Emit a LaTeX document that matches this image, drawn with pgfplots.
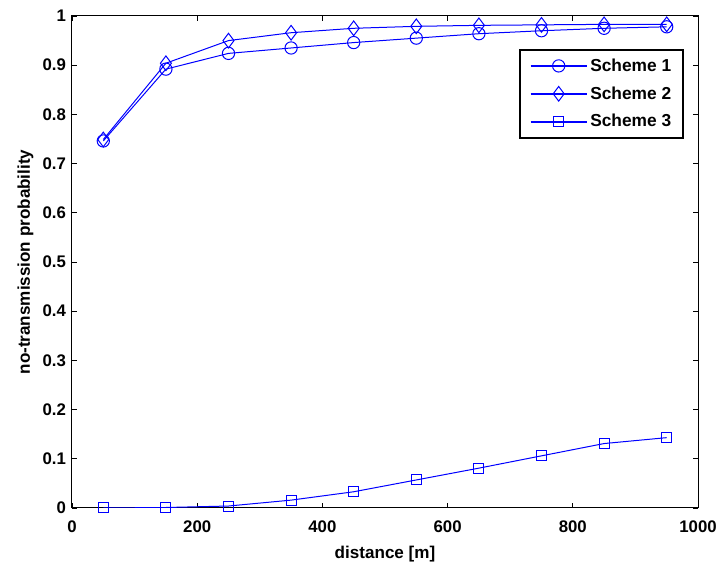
\documentclass[border=0pt]{standalone}
\usepackage{pgfplots}
\pgfplotsset{compat=1.18}
\usepackage{fontspec}
\setmainfont{Liberation Sans}
\definecolor{mblue}{RGB}{0,0,255}
\begin{document}
\begin{tikzpicture}
\path[use as bounding box] (-54pt,-41.25pt) rectangle (486.75pt,381pt);
\begin{axis}[
  at={(0,0)}, anchor=south west,
  scale only axis,
  width=469.5pt, height=369pt,
  xmin=0, xmax=1000, ymin=0, ymax=1,
  xtick={0,200,...,1000},
  ytick={0,0.1,...,1},
  yticklabels={0,0.1,0.2,0.3,0.4,0.5,0.6,0.7,0.8,0.9,1},
  scaled x ticks=false,
  /pgf/number format/assume math mode=true,
  /pgf/number format/1000 sep={},
  tick label style={font=\bfseries\fontsize{12.6}{15}\selectfont},
  yticklabel style={xshift=-1pt},
  xticklabel style={yshift=-6pt},
  label style={font=\bfseries\fontsize{12.8}{15}\selectfont},
  xlabel={distance [m]},
  ylabel={no-transmission probability},
  xlabel style={yshift=-3pt},
  ylabel style={yshift=0pt},
  tick align=inside,
  major tick length=3.75pt,
  xtick pos=both, ytick pos=both,
  axis line style={black, line width=0.75pt},
  every tick/.style={black, line width=0.6pt},
  legend style={at={(0.978,0.933)}, anchor=north east, draw=black, line width=1.5pt,
    font=\bfseries\fontsize{13}{15}\selectfont, row sep=6pt, inner xsep=7pt, inner ysep=4.5pt},
  legend cell align=left,
  legend image code/.code={
    \draw[mblue, line width=1.4pt, mark repeat=2, mark phase=2, #1] plot coordinates {(0pt,0pt) (21pt,0pt) (42pt,0pt)};
  },
]
\addplot[mblue, line width=0.75pt, mark=o, mark size=4.6pt, mark options={line width=0.75pt}] coordinates {
(50,0.746) (150,0.892) (250,0.924) (350,0.935) (450,0.946) (550,0.955) (650,0.964) (750,0.970) (850,0.975) (950,0.978)};
\addlegendentry{Scheme 1}
\addplot[mblue, line width=0.75pt, mark=diamond, mark size=5.5pt, mark options={line width=0.75pt}] coordinates {
(50,0.749) (150,0.904) (250,0.950) (350,0.966) (450,0.975) (550,0.979) (650,0.981) (750,0.982) (850,0.983) (950,0.983)};
\addlegendentry{Scheme 2}
\addplot[mblue, line width=0.75pt, mark=square, mark size=3.75pt, mark options={line width=0.75pt}] coordinates {
(50,0.000) (150,0.001) (250,0.004) (350,0.016) (450,0.033) (550,0.057) (650,0.081) (750,0.106) (850,0.131) (950,0.143)};
\addlegendentry{Scheme 3}
\end{axis}
\end{tikzpicture}
\end{document}
